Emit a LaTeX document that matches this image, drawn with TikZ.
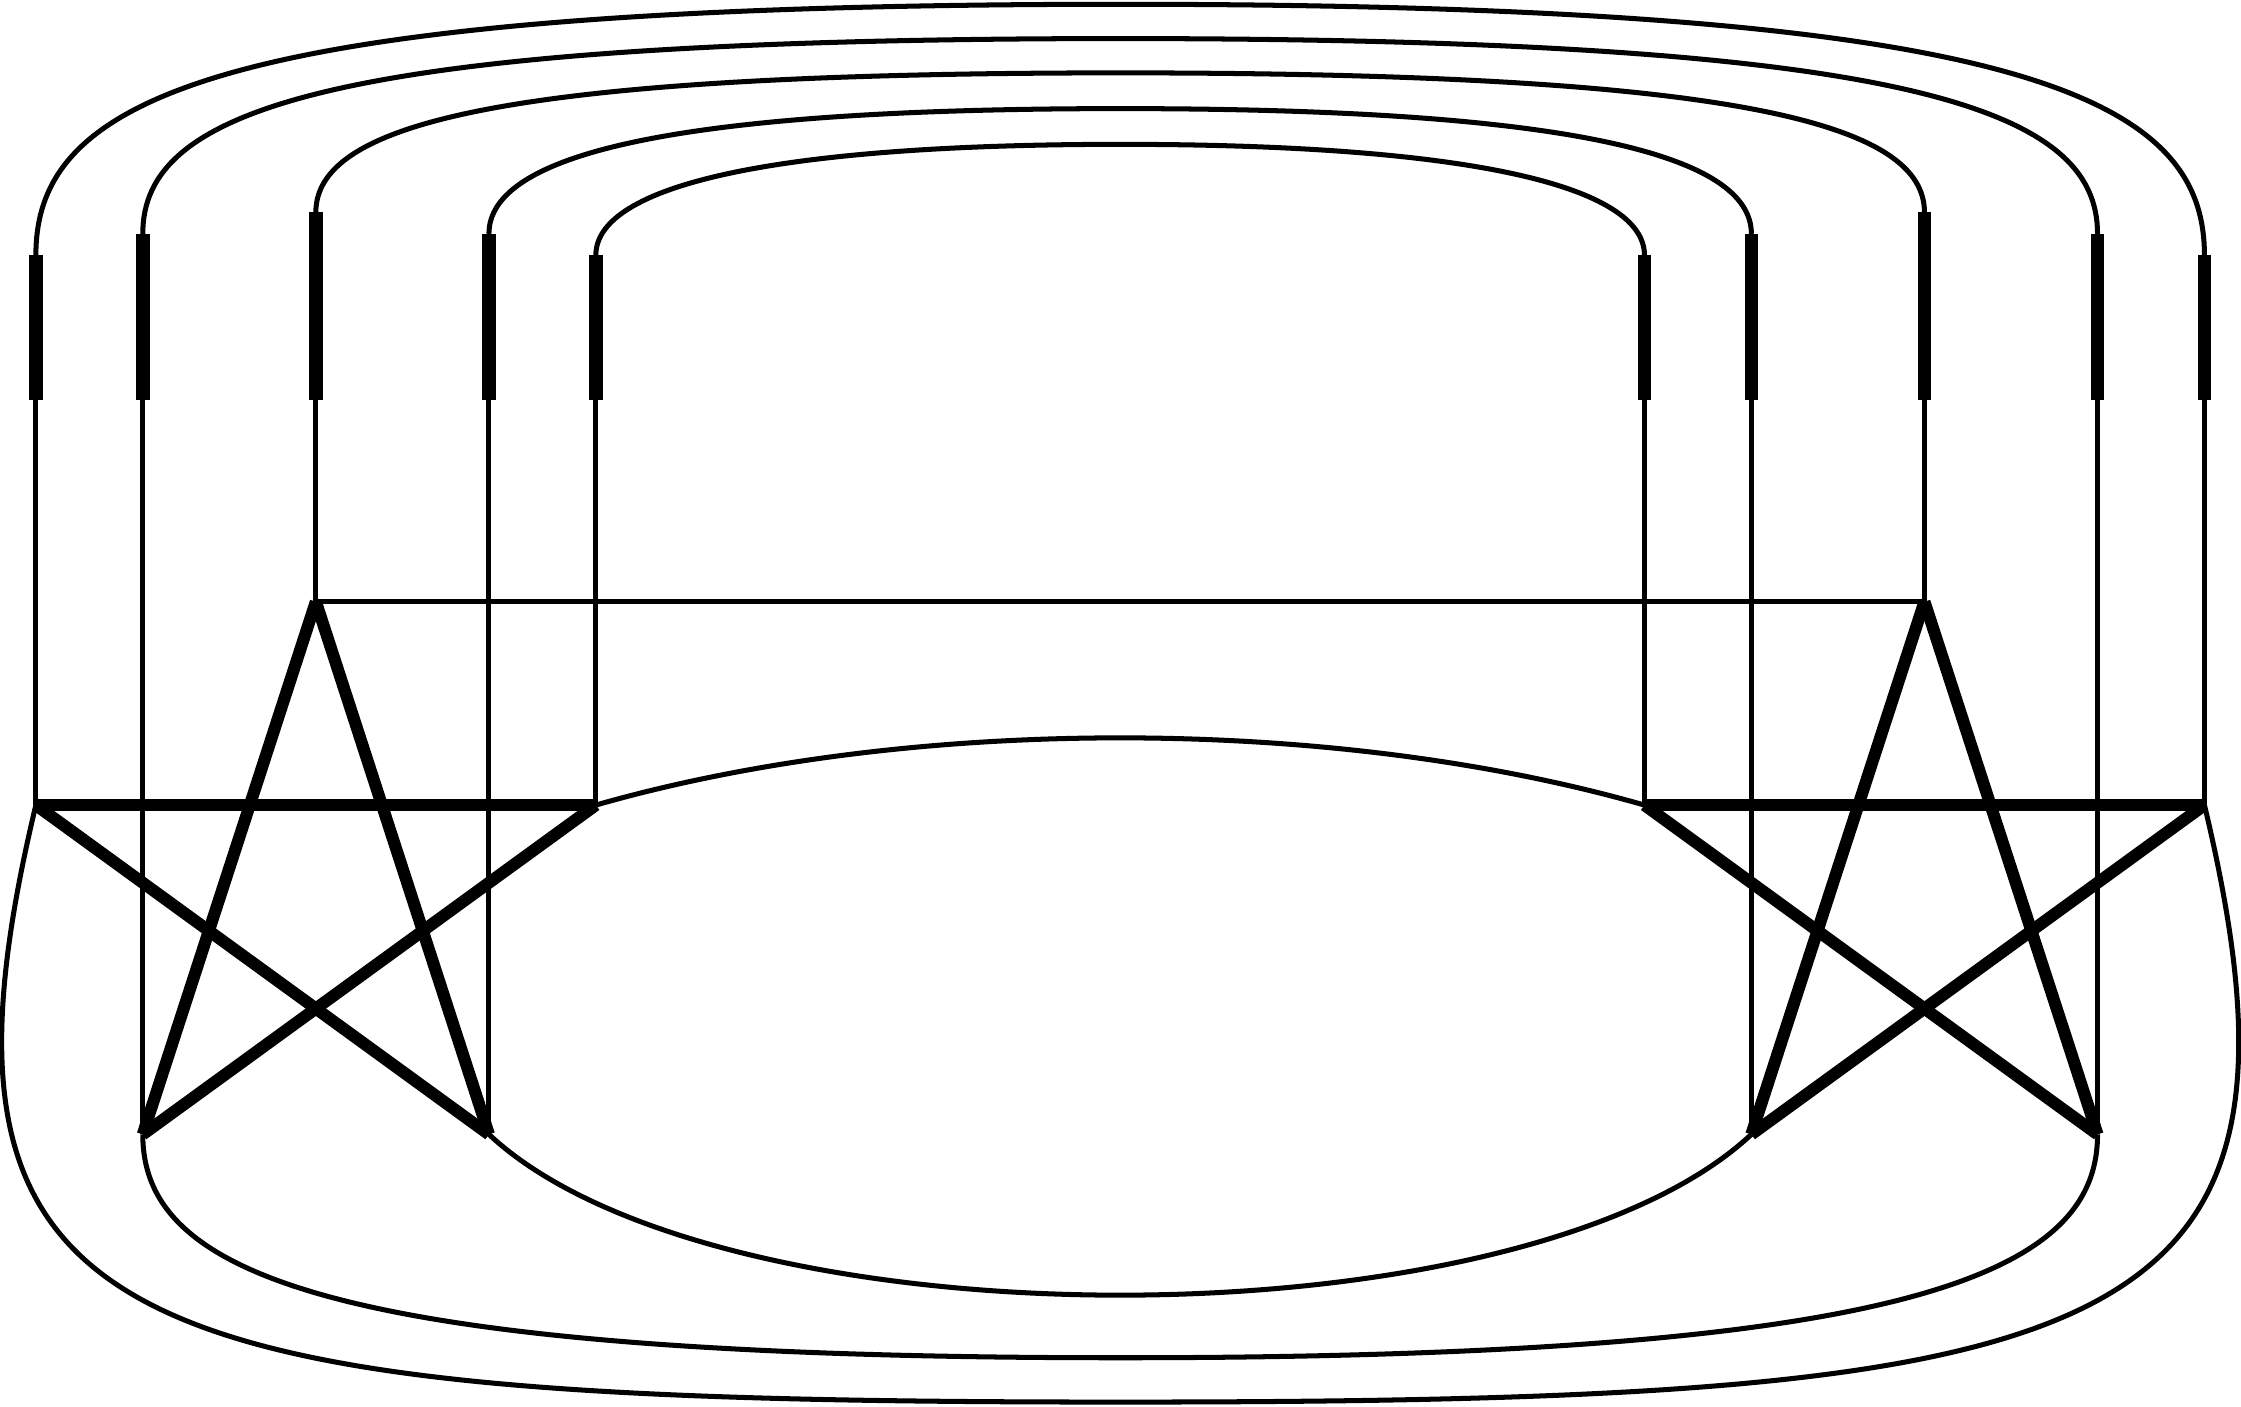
\documentclass[tikz,border=0pt]{standalone}
\begin{document}
\begin{tikzpicture}[wire/.style={line width=1pt}, edge/.style={line width=2.4pt}, seg/.style={rectangle,fill=black,draw=black,line width=0.4pt,inner sep=0pt,minimum width=0.08cm,anchor=south}]
  \useasboundingbox (0,0) rectangle (15.68,9.84);
  % left star
  \coordinate (aT) at (2.21,5.63);
  \coordinate (aL) at (0.251,4.207);
  \coordinate (aR) at (4.169,4.207);
  \coordinate (aBL) at (0.999,1.903);
  \coordinate (aBR) at (3.421,1.903);
  % right star
  \coordinate (bT) at (13.465,5.63);
  \coordinate (bL) at (11.506,4.207);
  \coordinate (bR) at (15.424,4.207);
  \coordinate (bBL) at (12.254,1.903);
  \coordinate (bBR) at (14.676,1.903);
  \coordinate (base) at (0,7.04);
  % middle points of the long curves
  \coordinate (t1) at (7.84,9.81);
  \coordinate (t2) at (7.84,9.57);
  \coordinate (t3) at (7.84,9.33);
  \coordinate (t4) at (7.84,9.08);
  \coordinate (t5) at (7.84,8.83);
  \coordinate (m3) at (7.84,0.34);
  \coordinate (m4) at (7.84,0.03);
  % thick pieces on the verticals
  \node[seg,minimum height=1cm] (l1) at (aL |- base) {};
  \node[seg,minimum height=1.15cm] (l2) at (aBL |- base) {};
  \node[seg,minimum height=1.3cm] (l3) at (aT |- base) {};
  \node[seg,minimum height=1.15cm] (l4) at (aBR |- base) {};
  \node[seg,minimum height=1cm] (l5) at (aR |- base) {};
  \node[seg,minimum height=1cm] (r1) at (bR |- base) {};
  \node[seg,minimum height=1.15cm] (r2) at (bBR |- base) {};
  \node[seg,minimum height=1.3cm] (r3) at (bT |- base) {};
  \node[seg,minimum height=1.15cm] (r4) at (bBL |- base) {};
  \node[seg,minimum height=1cm] (r5) at (bL |- base) {};
  % arcs over the top
  \foreach \i/\a/\c in {1/1.1/6.34,2/0.86/5.59,3/0.61/4.38,4/0.55/3.16,5/0.49/2.42}
    \draw[wire] (l\i.north) .. controls +(0,\a) and +(-\c,0) .. (t\i)
                .. controls +(\c,0) and +(0,\a) .. (r\i.north);
  \foreach \i/\v in {1/aL,2/aBL,3/aT,4/aBR,5/aR}
    \draw[wire] (l\i.south) -- (\v);
  \foreach \i/\v in {1/bR,2/bBR,3/bT,4/bBL,5/bL}
    \draw[wire] (r\i.south) -- (\v);
  \draw[wire] (aT) -- (bT);
  % curves below
  \draw[wire] (aR) .. controls +(2.19,0.627) and +(-2.19,0.627) .. (bL);
  \draw[wire] (aBR) .. controls +(1.6,-1.5) and +(-1.6,-1.5) .. (bBL);
  \draw[wire] (aBL) .. controls +(0,-0.96) and +(-5.59,0) .. (m3)
              .. controls +(5.59,0) and +(0,-0.96) .. (bBR);
  \draw[wire] (aL) .. controls +(-0.9,-3.767) and +(-7.04,0) .. (m4)
              .. controls +(7.04,0) and +(0.9,-3.767) .. (bR);
  % the two stars
  \foreach \s in {a,b}
    \foreach \p/\q in {T/BL,BL/R,R/L,L/BR,BR/T}
      \draw[edge] (\s\p) -- (\s\q);
\end{tikzpicture}
\end{document}
